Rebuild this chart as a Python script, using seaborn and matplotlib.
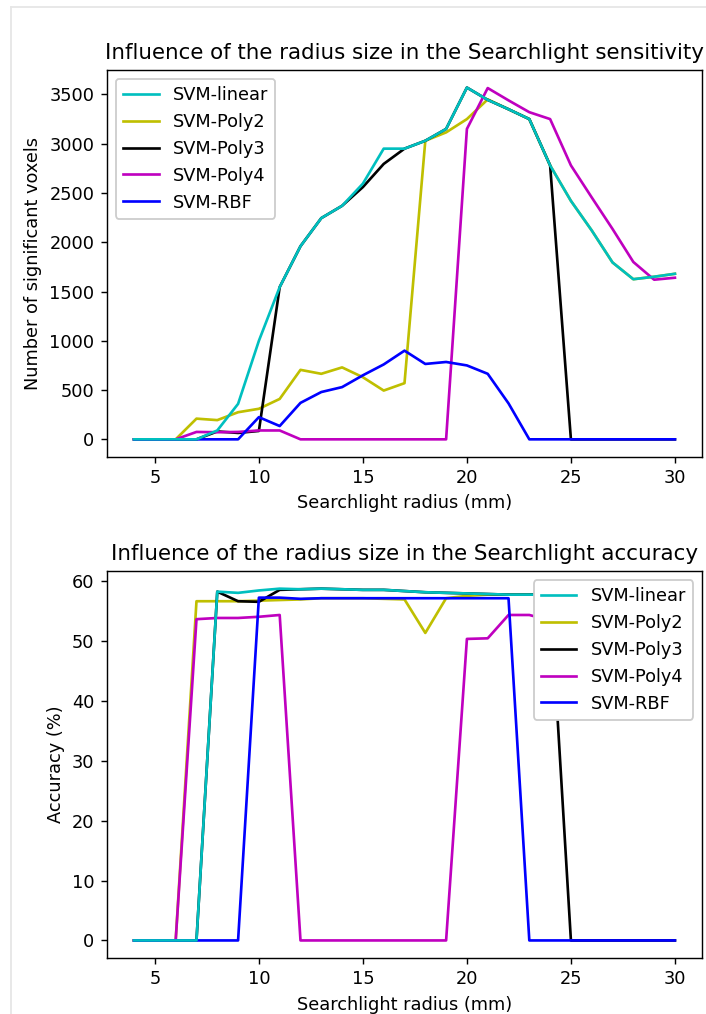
import matplotlib
matplotlib.use("Agg")
import matplotlib.pyplot as plt
import seaborn as sns
from matplotlib.lines import Line2D

# =============================
# DATA
# =============================
radius = list(range(4, 31))
labels = ["SVM-linear", "SVM-Poly2", "SVM-Poly3", "SVM-Poly4", "SVM-RBF"]
colors = ["c", "y", "k", "m", "b"]

# number of significant voxels
sens_linear = [0, 0, 0, 0, 90, 360, 1000, 1545, 1960, 2245, 2370, 2595, 2950, 2950,
               3030, 3150, 3570, 3445, 3350, 3250, 2780, 2420, 2120, 1795, 1625, 1650, 1680]
sens_poly2 = [0, 0, 0, 210, 195, 275, 310, 410, 705, 665, 730, 630, 495, 570,
              3030, 3115, 3250, 3450, 3350, 3250, 2780, 2420, 2120, 1795, 1625, 1650, 1680]
sens_poly3 = [0, 0, 0, 0, 80, 65, 85, 1545, 1960, 2245, 2370, 2560, 2795, 2950,
              3030, 3150, 3570, 3445, 3350, 3250, 2780, 0, 0, 0, 0, 0, 0]
sens_poly4 = [0, 0, 0, 75, 72, 75, 90, 90, 0, 0, 0, 0, 0, 0,
              0, 0, 3150, 3565, 3440, 3320, 3250, 2780, 2455, 2135, 1800, 1620, 1640]
sens_rbf = [0, 0, 0, 0, 0, 0, 225, 135, 370, 480, 530, 650, 760, 900,
            765, 785, 750, 665, 365, 0, 0, 0, 0, 0, 0, 0, 0]

# accuracy (%)
acc_linear = [0, 0, 0, 0, 58.3, 58.1, 58.5, 58.8, 58.7, 58.8, 58.7, 58.6, 58.6, 58.4,
              58.2, 58.1, 58.0, 57.9, 57.8, 57.8, 57.8, 57.9, 57.8, 57.9, 57.8, 57.8, 57.9]
acc_poly2 = [0, 0, 0, 56.7, 56.7, 56.7, 56.8, 56.9, 57.0, 57.2, 57.2, 57.2, 57.1, 57.0,
             51.4, 57.2, 57.6, 57.8, 57.8, 57.8, 57.8, 57.9, 57.8, 57.9, 57.8, 57.8, 57.9]
acc_poly3 = [0, 0, 0, 0, 58.3, 56.7, 56.6, 58.6, 58.7, 58.8, 58.7, 58.6, 58.6, 58.4,
             58.2, 58.1, 58.0, 57.9, 57.8, 57.8, 57.9, 0, 0, 0, 0, 0, 0]
acc_poly4 = [0, 0, 0, 53.7, 53.9, 53.9, 54.1, 54.4, 0, 0, 0, 0, 0, 0,
             0, 0, 50.4, 50.5, 54.4, 54.4, 53.5, 54.0, 54.1, 54.0, 54.2, 54.1, 54.0]
acc_rbf = [0, 0, 0, 0, 0, 0, 57.3, 57.3, 57.1, 57.2, 57.2, 57.2, 57.2, 57.2,
           57.2, 57.2, 57.2, 57.2, 57.2, 0, 0, 0, 0, 0, 0, 0, 0]

sens_all = [sens_linear, sens_poly2, sens_poly3, sens_poly4, sens_rbf]
acc_all = [acc_linear, acc_poly2, acc_poly3, acc_poly4, acc_rbf]

# =============================
# FIGURE
# =============================
DPI = 128
fig, (ax1, ax2) = plt.subplots(2, 1, figsize=(706 / DPI, 1014 / DPI), dpi=DPI)
fig.subplots_adjust(left=0.1516, right=0.9943, top=0.931, bottom=0.0552, hspace=0.295)


def draw(ax, series, title, ylabel, loc):
    for i, (vals, lab, col) in enumerate(zip(series, labels, colors)):
        # linear drawn on top of the rest
        z = 2.5 if i == 0 else 2
        sns.lineplot(x=radius, y=vals, color=col, label=lab, ax=ax, zorder=z)
    ax.set_title(title)
    ax.set_xlabel("Searchlight radius (mm)")
    ax.set_ylabel(ylabel)
    ax.legend(loc=loc, framealpha=1)


draw(ax1, sens_all, "Influence of the radius size in the Searchlight sensitivity",
     "Number of significant voxels", "upper left")
draw(ax2, acc_all, "Influence of the radius size in the Searchlight accuracy",
     "Accuracy (%)", "upper right")

ax1.set_yticks(range(0, 3501, 500))
ax2.set_yticks(range(0, 61, 10))

# thin notebook output border
fig.add_artist(Line2D([10.5 / 706, 10.5 / 706], [0, 1 - 7 / 1014], color="#e6e6e6", lw=1))
fig.add_artist(Line2D([10.5 / 706, 1], [1 - 7 / 1014, 1 - 7 / 1014], color="#e6e6e6", lw=1))

plt.savefig("out.png", dpi=DPI)
plt.close()
